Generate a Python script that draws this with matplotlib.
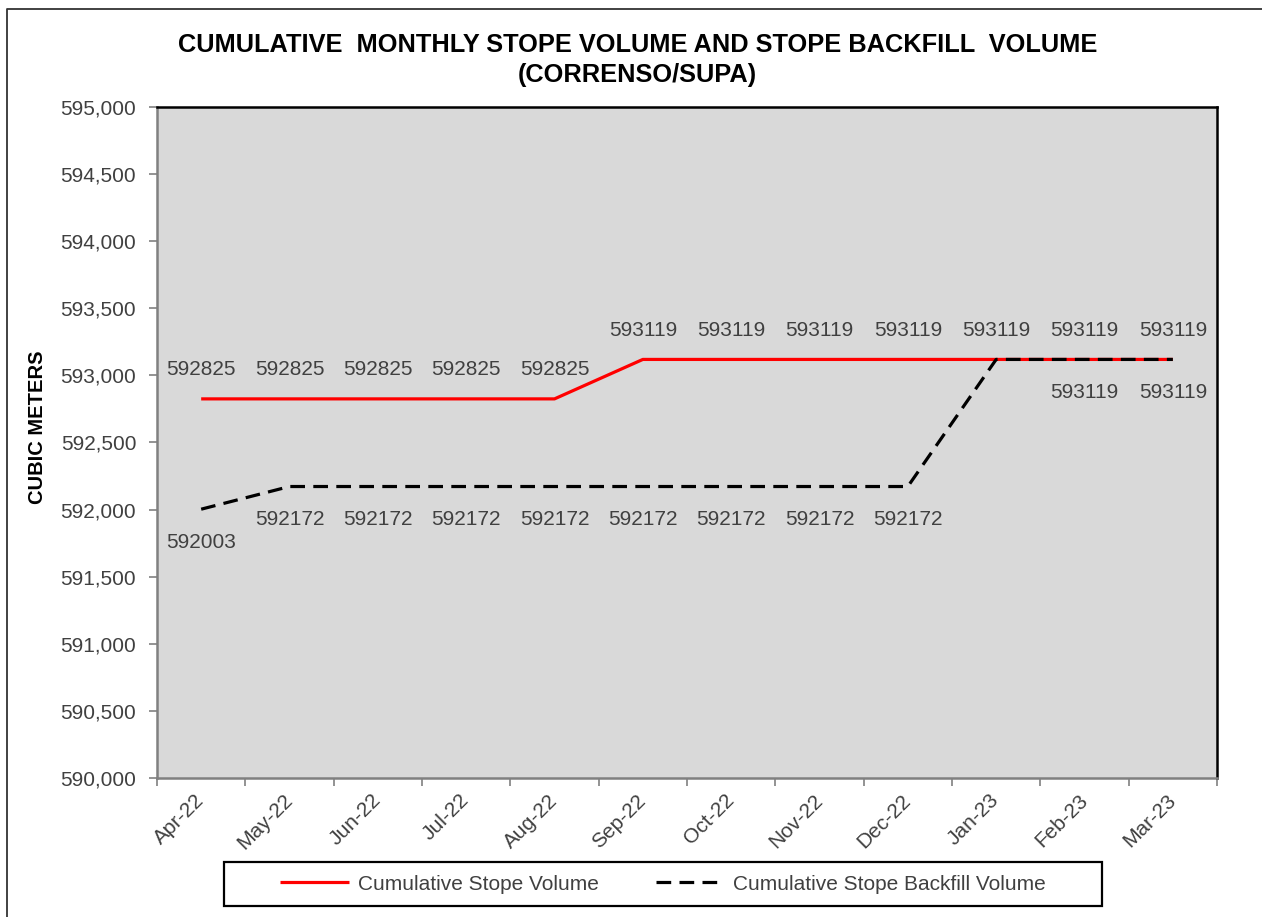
import matplotlib.pyplot as plt
from matplotlib.lines import Line2D
from matplotlib.patches import Rectangle
from matplotlib.ticker import FuncFormatter
import numpy as np

plt.rcParams['font.family'] = ['Liberation Sans', 'DejaVu Sans']

months = ['Apr-22', 'May-22', 'Jun-22', 'Jul-22', 'Aug-22', 'Sep-22',
          'Oct-22', 'Nov-22', 'Dec-22', 'Jan-23', 'Feb-23', 'Mar-23']
stope_volume = [592825, 592825, 592825, 592825, 592825, 593119,
                593119, 593119, 593119, 593119, 593119, 593119]
backfill_volume = [592003, 592172, 592172, 592172, 592172, 592172,
                   592172, 592172, 592172, 593119, 593119, 593119]
# Jan-23 backfill label is hidden in the original (overlaps the red line)
backfill_label_shown = [True] * 9 + [False, True, True]

W, H = 1262, 917
fig = plt.figure(figsize=(W / 100, H / 100), dpi=100)
ax = fig.add_axes([157 / W, 1 - 778 / H, (1217 - 157) / W, (778 - 107) / H])
ax.set_facecolor('#D9D9D9')

x = np.arange(len(months))
ax.plot(x, stope_volume, color='#FF0000', lw=2.3, solid_capstyle='butt',
        label='Cumulative Stope Volume', zorder=3)
ax.plot(x, backfill_volume, color='black', lw=2.3, linestyle=(0, (4.6, 2.6)),
        dash_capstyle='butt', label='Cumulative Stope Backfill Volume', zorder=4)

txt_col = '#404040'
for i, v in enumerate(stope_volume):
    ax.annotate(str(v), (x[i], v), xytext=(0, 21), textcoords='offset points',
                ha='center', va='center', fontsize=15, color=txt_col)
for i, v in enumerate(backfill_volume):
    if backfill_label_shown[i]:
        ax.annotate(str(v), (x[i], v), xytext=(0, -24), textcoords='offset points',
                    ha='center', va='center', fontsize=15, color=txt_col)

ax.set_xlim(-0.5, len(months) - 0.5)
ax.set_ylim(590000, 595000)
ax.set_yticks(np.arange(590000, 595001, 500))
ax.yaxis.set_major_formatter(FuncFormatter(lambda v, p: f'{int(v):,}'))
ax.tick_params(axis='y', direction='out', length=6, width=1.2, color='#808080',
               labelsize=15, labelcolor=txt_col, pad=9)

ax.set_xticks(x)
ax.set_xticklabels(months, rotation=45, ha='right', va='center',
                   rotation_mode='anchor')
ax.set_xticks(np.arange(-0.5, len(months)), minor=True)
ax.tick_params(axis='x', which='major', length=0, labelsize=15,
               labelcolor=txt_col, pad=14)
ax.tick_params(axis='x', which='minor', direction='out', length=6, width=1.2,
               color='#808080')

for side in ['top', 'right']:
    ax.spines[side].set_color('black')
    ax.spines[side].set_linewidth(1.8)
for side in ['left', 'bottom']:
    ax.spines[side].set_color('#808080')
    ax.spines[side].set_linewidth(1.8)

fig.text(0.505, 1 - 45 / H, 'CUMULATIVE  MONTHLY STOPE VOLUME AND STOPE BACKFILL  VOLUME',
         ha='center', va='center', fontsize=18.3, fontweight='bold')
fig.text(0.505, 1 - 75 / H, '(CORRENSO/SUPA)', ha='center', va='center',
         fontsize=18.3, fontweight='bold')
fig.text(38 / W, 1 - 427 / H, 'CUBIC METERS', rotation=90, ha='center',
         va='center', fontsize=14.5, fontweight='bold')

# legend box
fig.patches.append(Rectangle((224 / W, 1 - 906 / H), (1102 - 224) / W, 44 / H,
                             transform=fig.transFigure, facecolor='white',
                             edgecolor='black', lw=1.6, zorder=1))
leg = fig.legend(loc='center', bbox_to_anchor=(663 / W, 1 - 884 / H), ncol=2,
                 frameon=False, fontsize=15, handlelength=3.3, handletextpad=0.4,
                 columnspacing=2.75, labelcolor=txt_col)

# outer border of the screenshot (left and top visible)
fig.lines.append(Line2D([7 / W, 7 / W, 1], [0, 1 - 9 / H, 1 - 9 / H],
                        transform=fig.transFigure, color='#333333', lw=1.3))

fig.savefig('out.png', dpi=100)
